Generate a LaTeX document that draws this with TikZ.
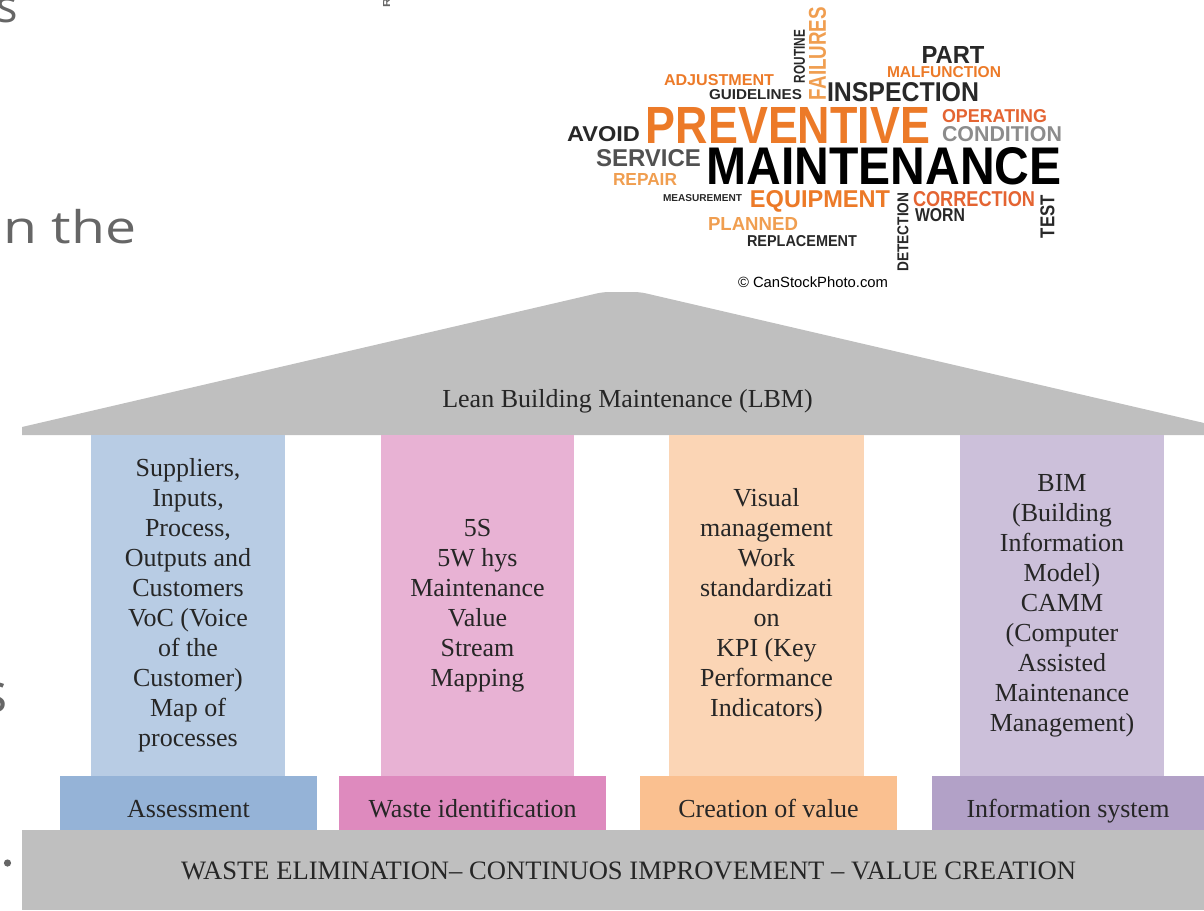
\documentclass[tikz,border=0pt]{standalone}
\usepackage{fontspec}
\usepackage{graphicx}
\setmainfont{Liberation Serif}
\newfontfamily\cloudfont{Liberation Sans}
\newfontfamily\slidefont{Open Sans}
\definecolor{roofgray}{RGB}{191,191,191}
\definecolor{textdark}{RGB}{38,38,38}
\definecolor{blueA}{RGB}{184,204,228}
\definecolor{blueB}{RGB}{149,179,215}
\definecolor{pinkA}{RGB}{232,178,212}
\definecolor{pinkB}{RGB}{222,138,190}
\definecolor{orangeA}{RGB}{251,213,181}
\definecolor{orangeB}{RGB}{250,192,144}
\definecolor{purpleA}{RGB}{204,192,218}
\definecolor{purpleB}{RGB}{178,161,199}
\definecolor{cloudorange}{RGB}{236,122,40}
\definecolor{cloudred}{RGB}{228,100,50}
\definecolor{cloudlight}{RGB}{240,158,80}
\definecolor{clouddark}{RGB}{40,40,40}
\definecolor{cloudgray}{RGB}{140,140,140}
\definecolor{slidegray}{RGB}{102,102,102}
\newcommand{\cloudword}[3]{\resizebox{#1pt}{#2pt}{\cloudfont\bfseries #3}}
\begin{document}
\begin{tikzpicture}[x=1pt,y=-1pt,
  pillar/.style={inner sep=0pt, minimum height=341pt, align=center,
    text=textdark, font=\fontsize{26}{30}\selectfont},
  plinth/.style={inner sep=0pt, minimum height=54pt, text height=28pt,
    text depth=0pt, text=textdark, font=\fontsize{26}{30}\selectfont},
  word/.style={inner sep=0pt, text=clouddark},
  slide/.style={inner sep=0pt, anchor=base west, text=slidegray,
    font=\slidefont\fontsize{45}{50}\selectfont}]
  \useasboundingbox (0,0) rectangle (1204,910);
  \clip (0,0) rectangle (1204,910);
  % slide text behind the picture
  \node[slide] (s1) at (-4,22) {s};
  \node[slide] (s2) at (3,243) {\scalebox{1.23}[1]{n the}};
  \node[slide, font=\slidefont\fontsize{55}{60}\selectfont] (s3) at (-19,712) {s};
  \fill[slidegray] (7.5,863) circle (3.6);
  % word cloud
  \node[word, rotate=90, text=slidegray] (wr) at (386.5,2.5) {\cloudword{9}{7}{R}};
  \node[word, rotate=90] (routine) at (799.5,56.5) {\cloudword{53}{11}{ROUTINE}};
  \node[word, rotate=90, text=cloudlight] (failures) at (817.5,53.5) {\cloudword{93}{17}{FAILURES}};
  \node[word] (part) at (953,55) {\cloudword{63}{17}{PART}};
  \node[word, text=cloudorange] (malf) at (944,72.5) {\cloudword{114}{11}{MALFUNCTION}};
  \node[word, text=cloudorange] (adjust) at (719,80) {\cloudword{110}{11}{ADJUSTMENT}};
  \node[word] (guide) at (755.5,95) {\cloudword{93}{10}{GUIDELINES}};
  \node[word] (inspect) at (903,92.5) {\cloudword{152}{19}{INSPECTION}};
  \node[word, text=cloudorange] (prevent) at (788,125) {\cloudword{284}{36}{PREVENTIVE}};
  \node[word, text=cloudred] (operate) at (994.5,116) {\cloudword{105}{13}{OPERATING}};
  \node[word, text=cloudgray] (condit) at (1002,134.5) {\cloudword{120}{15}{CONDITION}};
  \node[word] (avoid) at (603.5,134.5) {\cloudword{73}{15}{AVOID}};
  \node[word, text=textdark!80] (service) at (648.5,158.5) {\cloudword{105}{17}{SERVICE}};
  \node[word, text=black] (maint) at (884,166.5) {\cloudword{355}{37}{MAINTENANCE}};
  \node[word, text=cloudlight] (repair) at (645,179) {\cloudword{64}{12}{REPAIR}};
  \node[word] (measure) at (702.5,198.5) {\cloudword{79}{7}{MEASUREMENT}};
  \node[word, text=cloudorange] (equip) at (820,201) {\cloudword{140}{17}{EQUIPMENT}};
  \node[word, rotate=90] (detect) at (903,232) {\cloudword{79}{11}{DETECTION}};
  \node[word, text=cloudred] (correct) at (974,199.5) {\cloudword{122}{15}{CORRECTION}};
  \node[word] (worn) at (940,215) {\cloudword{50}{13}{WORN}};
  \node[word, rotate=90] (test) at (1047.5,216.5) {\cloudword{43}{14}{TEST}};
  \node[word, text=cloudlight] (planned) at (753,223.5) {\cloudword{90}{13}{PLANNED}};
  \node[word] (replace) at (802,241) {\cloudword{110}{11}{REPLACEMENT}};
  \node[word, text=black] (credit) at (813,282) {\resizebox{150pt}{!}{\cloudfont \textcopyright{} CanStockPhoto.com}};
  % roof
  \fill[roofgray] (22,435) -- (22,427) [rounded corners=6pt] -- (603,292) -- (640,292) [sharp corners] -- (1204,423) -- (1204,435) -- cycle;
  \node[text=textdark, font=\fontsize{26}{30}\selectfont] (lbm) at (627.5,401) {Lean Building Maintenance (LBM)};
  % pillars
  \node[pillar, fill=blueA, minimum width=194pt] (assess) at (188,605.5)
    {Suppliers,\\Inputs,\\Process,\\Outputs and\\Customers\\VoC (Voice\\of the\\Customer)\\Map of\\processes};
  \node[pillar, fill=pinkA, minimum width=193pt] (waste) at (477.5,605.5)
    {5S\\5W hys\\Maintenance\\Value\\Stream\\Mapping};
  \node[pillar, fill=orangeA, minimum width=195pt] (value) at (766.5,605.5)
    {Visual\\management\\Work\\standardizati\\on\\KPI (Key\\Performance\\Indicators)};
  \node[pillar, fill=purpleA, minimum width=204pt] (info) at (1062,605.5)
    {BIM\\(Building\\Information\\Model)\\CAMM\\(Computer\\Assisted\\Maintenance\\Management)};
  % plinths
  \node[plinth, fill=blueB, minimum width=257pt] (assessB) at (188.5,803) {Assessment};
  \node[plinth, fill=pinkB, minimum width=267pt] (wasteB) at (472.5,803) {Waste identification};
  \node[plinth, fill=orangeB, minimum width=257pt] (valueB) at (768.5,803) {Creation of value};
  \node[plinth, fill=purpleB, minimum width=272pt] (infoB) at (1068,803) {Information system};
  % foundation
  \fill[roofgray] (22,830) rectangle (1204,910);
  \node[text=textdark, font=\fontsize{26.6}{30}\selectfont] (base) at (628.5,871)
    {WASTE ELIMINATION-- CONTINUOS IMPROVEMENT -- VALUE CREATION};
\end{tikzpicture}
\end{document}
